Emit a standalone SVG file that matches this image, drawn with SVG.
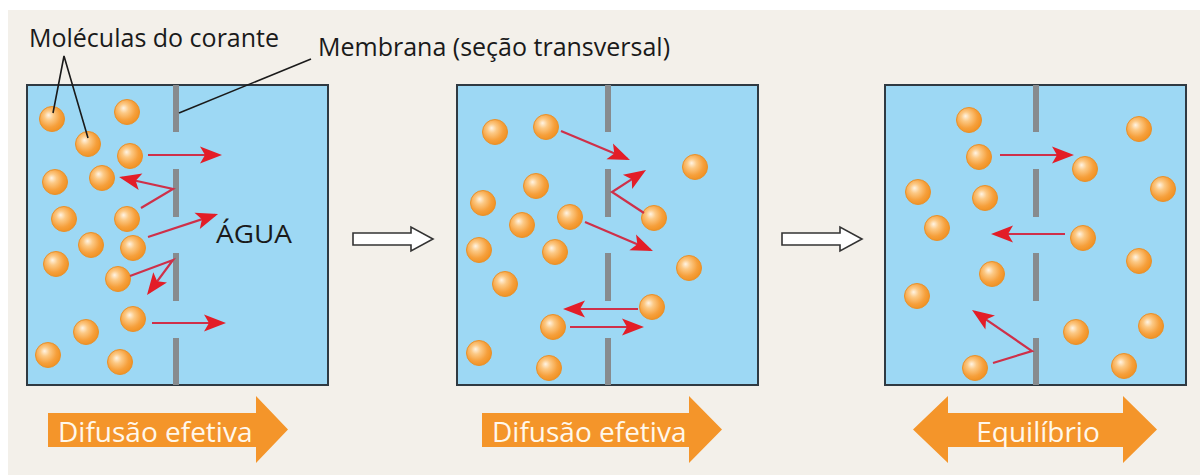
<svg xmlns="http://www.w3.org/2000/svg" width="1200" height="475" viewBox="0 0 1200 475">
  <defs>
    <radialGradient id="dye" cx="0.42" cy="0.42" r="0.62" fx="0.36" fy="0.34">
      <stop offset="0" stop-color="#fff4e4"/>
      <stop offset="0.3" stop-color="#fcc985"/>
      <stop offset="0.7" stop-color="#f6a03c"/>
      <stop offset="1" stop-color="#f09020"/>
    </radialGradient>
    <marker id="head" markerUnits="userSpaceOnUse" markerWidth="30" markerHeight="24" viewBox="-24 -12 30 24" refX="-3" refY="0" orient="auto" overflow="visible">
      <path d="M0,0 L-22,-8.5 L-17,0 L-22,8.5 Z" fill="#e31d27"/>
    </marker>
    <symbol id="mol" overflow="visible">
      <circle r="12.5" fill="url(#dye)" stroke="#e9912a" stroke-width="1"/>
    </symbol>
  </defs>
  <style>
    .bg { fill: #f3f0ea; }
    .tank { fill: #9dd8f4; stroke: #2f3a42; stroke-width: 2; }
    .membrane { stroke: #878b8e; stroke-width: 6; fill: none; }
    .move { fill: none; stroke: #cf3049; stroke-width: 2.2; marker-end: url(#head); }
    .leader { fill: none; stroke: #1a1a1a; stroke-width: 1.6; }
    .label { font-family: "Open Sans", "Noto Sans", sans-serif; fill: #1a1a1a; }
    .step { fill: #ffffff; stroke: #333333; stroke-width: 1.6; stroke-linejoin: miter; }
    .band { fill: #f4952a; }
    .bandtext { font-family: "Open Sans", "Noto Sans", sans-serif; fill: #fff8ec; font-size: 28px; }
  </style>

  <rect x="0" y="0" width="1200" height="475" fill="#ffffff"/>
  <rect class="bg" x="8" y="10" width="1192" height="465"/>

  <!-- Stage 1: dye concentrated on the left -->
  <g id="stage1">
    <rect class="tank" x="27" y="85" width="301" height="300"/>
    <path class="membrane" d="M176,85 V132 M176,169 V217 M176,253 V301 M176,338 V385"/>
    <g id="stage1-molecules">
      <use href="#mol" x="52" y="119"/>
      <use href="#mol" x="127" y="112"/>
      <use href="#mol" x="88" y="144"/>
      <use href="#mol" x="130" y="156"/>
      <use href="#mol" x="55" y="182"/>
      <use href="#mol" x="102" y="178"/>
      <use href="#mol" x="64" y="219"/>
      <use href="#mol" x="127" y="219"/>
      <use href="#mol" x="91" y="245"/>
      <use href="#mol" x="133" y="248"/>
      <use href="#mol" x="56" y="264"/>
      <use href="#mol" x="118" y="279"/>
      <use href="#mol" x="133" y="319"/>
      <use href="#mol" x="86" y="332"/>
      <use href="#mol" x="48" y="355"/>
      <use href="#mol" x="120" y="362"/>
    </g>
    <text class="label" x="216" y="243" font-size="25" textLength="76" lengthAdjust="spacingAndGlyphs">ÁGUA</text>
  </g>

  <!-- Stage 2: dye spreading through the gaps -->
  <g id="stage2">
    <rect class="tank" x="457" y="85" width="301" height="300"/>
    <path class="membrane" d="M608,85 V132 M608,169 V217 M608,253 V301 M608,338 V385"/>
    <g id="stage2-molecules">
      <use href="#mol" x="495" y="132"/>
      <use href="#mol" x="546" y="127"/>
      <use href="#mol" x="695" y="167"/>
      <use href="#mol" x="536" y="186"/>
      <use href="#mol" x="483" y="203"/>
      <use href="#mol" x="570" y="217"/>
      <use href="#mol" x="522" y="225"/>
      <use href="#mol" x="654" y="218"/>
      <use href="#mol" x="479" y="250"/>
      <use href="#mol" x="555" y="252"/>
      <use href="#mol" x="689" y="268"/>
      <use href="#mol" x="505" y="284"/>
      <use href="#mol" x="652" y="307"/>
      <use href="#mol" x="553" y="327"/>
      <use href="#mol" x="479" y="353"/>
      <use href="#mol" x="549" y="368"/>
    </g>
  </g>

  <!-- Stage 3: equilibrium on both sides -->
  <g id="stage3">
    <rect class="tank" x="885" y="85" width="301" height="300"/>
    <path class="membrane" d="M1036,85 V132 M1036,169 V217 M1036,253 V301 M1036,338 V385"/>
    <g id="stage3-molecules">
      <use href="#mol" x="969" y="120"/>
      <use href="#mol" x="1139" y="129"/>
      <use href="#mol" x="979" y="157"/>
      <use href="#mol" x="1085" y="169"/>
      <use href="#mol" x="918" y="192"/>
      <use href="#mol" x="1163" y="189"/>
      <use href="#mol" x="985" y="198"/>
      <use href="#mol" x="937" y="228"/>
      <use href="#mol" x="1083" y="238"/>
      <use href="#mol" x="1139" y="261"/>
      <use href="#mol" x="992" y="274"/>
      <use href="#mol" x="917" y="296"/>
      <use href="#mol" x="1151" y="326"/>
      <use href="#mol" x="1076" y="332"/>
      <use href="#mol" x="975" y="368"/>
      <use href="#mol" x="1124" y="366"/>
    </g>
  </g>

  <!-- Callout labels -->
  <g id="label-molecules">
    <text class="label" x="29" y="47" font-size="25">Moléculas do corante</text>
  </g>
  <g id="label-membrane">
    <text class="label" x="318" y="56" font-size="25">Membrana (seção transversal)</text>
  </g>

  <!-- Bottom captions -->
  <g id="caption1">
    <path class="band" d="M48,413 H256 V396 L288,429.5 L256,463 V447 H48 Z"/>
    <text class="bandtext" x="58" y="442">Difusão efetiva</text>
  </g>
  <g id="caption2">
    <path class="band" d="M482,413 H689 V396 L722,429.5 L689,463 V447 H482 Z"/>
    <text class="bandtext" x="492" y="442">Difusão efetiva</text>
  </g>
  <g id="caption3">
    <path class="band" d="M913,429.5 L948,396 V413 H1123 V396 L1157,429.5 L1123,463 V447 H948 V463 Z"/>
    <text class="bandtext" x="1038" y="442" text-anchor="middle">Equilíbrio</text>
  </g>

  <!-- Connectors: leaders, molecule paths and stage transitions -->
  <g id="connectors">
    <path class="leader" d="M53,113 L64,56 L88,138"/>
    <path class="leader" d="M311,59 L179,113"/>

    <path class="move" d="M148,155 H219"/>
    <path class="move" d="M141,208 L173,189 L122,177.7"/>
    <path class="move" d="M148,237 L215.2,214.9"/>
    <path class="move" d="M130,276 L173,260 L148.8,292.6"/>
    <path class="move" d="M152,323 H223"/>

    <path class="move" d="M561,131 L627.2,158.8"/>
    <path class="move" d="M644,213 L612,192 L643.5,171.6"/>
    <path class="move" d="M585,222 L650.2,249.8"/>
    <path class="move" d="M638,309 H566"/>
    <path class="move" d="M570,327 H641"/>

    <path class="move" d="M1000,155 H1071"/>
    <path class="move" d="M1065,234 H994"/>
    <path class="move" d="M993,363 L1032,351 L974.5,311.7"/>

    <path class="step" d="M353,233 H411 V227 L433,239 L411,251 V245 H353 Z"/>
    <path class="step" d="M782,233 H840 V227 L862,239 L840,251 V245 H782 Z"/>
  </g>
</svg>
